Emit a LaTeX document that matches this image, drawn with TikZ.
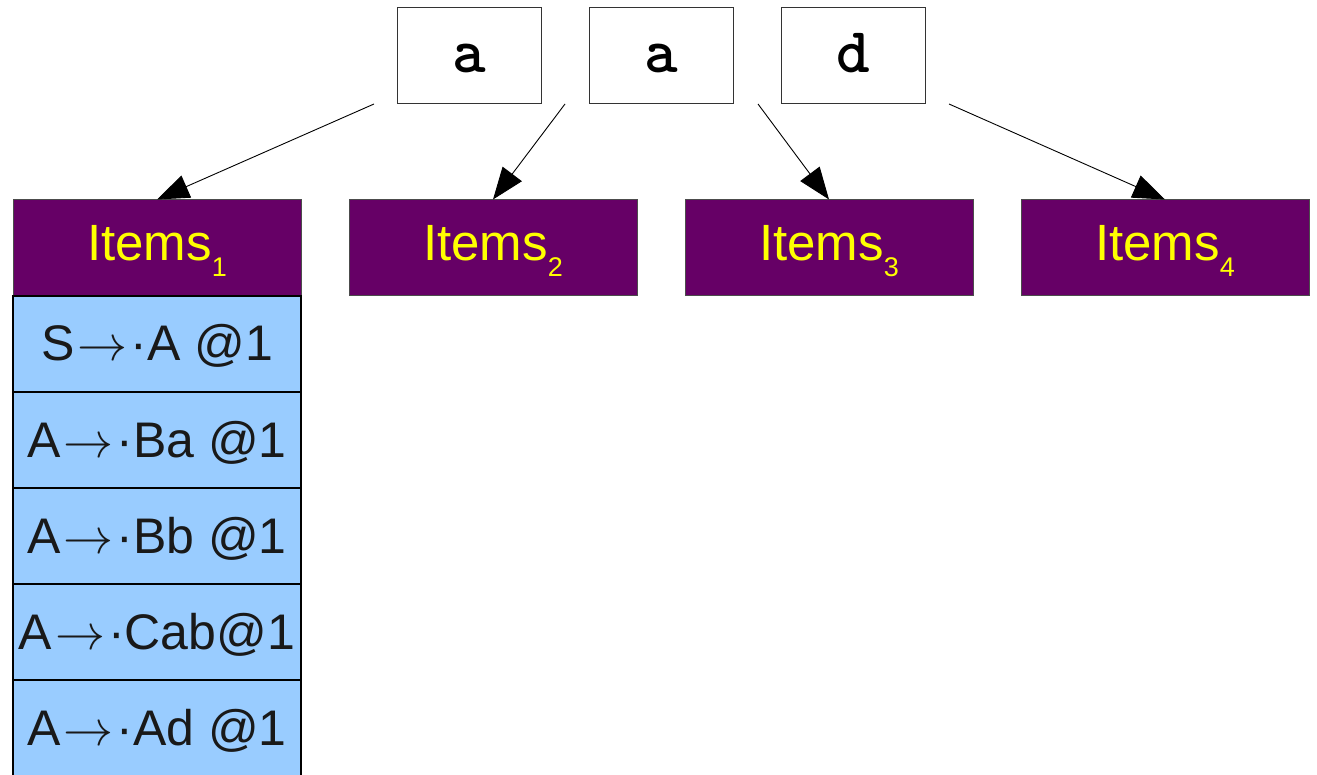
\documentclass[tikz,border=0pt]{standalone}
\usepackage{graphicx}
\usepackage{fontspec}
\setmainfont{Liberation Sans}
\newfontfamily\tokfont{lmmonolt10-bold}[Extension=.otf]
\usetikzlibrary{arrows.meta}
\definecolor{itempurple}{HTML}{660066}
\definecolor{itemblue}{HTML}{99CCFF}
\definecolor{itemyellow}{HTML}{FFFF00}
\begin{document}
\begin{tikzpicture}[x=1pt,y=-1pt,
  tokbox/.style={draw=black!80,line width=1pt,minimum width=144pt,minimum height=96pt,inner sep=0pt,
    text height=34pt,text depth=0pt,font=\tokfont\fontsize{64}{64}\selectfont},
  setbox/.style={draw=black!70,fill=itempurple,line width=1pt,minimum width=288pt,minimum height=96pt,inner sep=0pt,
    text height=26pt,text depth=0pt,text=itemyellow,font=\fontsize{51}{51}\selectfont},
  itembox/.style={draw=black,fill=itemblue,line width=1.2pt,minimum width=288pt,minimum height=96pt,inner sep=0pt,
    text height=34pt,text depth=0pt,text=black!90,font=\fontsize{50}{50}\selectfont},
  conn/.style={line width=0.9pt,-{Triangle[length=32pt,width=24pt]}}]
\useasboundingbox (0,0) rectangle (1317,775);
\node[tokbox] (t1) at (469,56) {a};
\node[tokbox] (t2) at (661,56) {a};
\node[tokbox] (t3) at (853,56) {d};
\newcommand{\sub}[1]{\raisebox{-16pt}{\fontsize{27}{27}\selectfont #1}}
\newcommand{\arr}{\hspace{3pt}\scalebox{5}{\normalsize$\rightarrow$}\hspace{3pt}}
\node[setbox] (s1) at (157,248) {Items\sub{1}};
\node[setbox] (s2) at (493,248) {Items\sub{2}};
\node[setbox] (s3) at (829,248) {Items\sub{3}};
\node[setbox] (s4) at (1165,248) {Items\sub{4}};
\node[itembox] (i1) at (157,344) {S\arr·A @1};
\node[itembox] (i2) at (157,440) {A\arr·Ba @1};
\node[itembox] (i3) at (157,536) {A\arr·Bb @1};
\node[itembox] (i4) at (157,632) {A\arr·Cab@1};
\node[itembox] (i5) at (157,728) {A\arr·Ad @1};
\coordinate (c1) at (374,104);
\coordinate (c2) at (565,104);
\coordinate (c3) at (758,104);
\coordinate (c4) at (949,104);
\draw[conn] (c1) -- (s1.north);
\draw[conn] (c2) -- (s2.north);
\draw[conn] (c3) -- (s3.north);
\draw[conn] (c4) -- (s4.north);
\end{tikzpicture}
\end{document}
